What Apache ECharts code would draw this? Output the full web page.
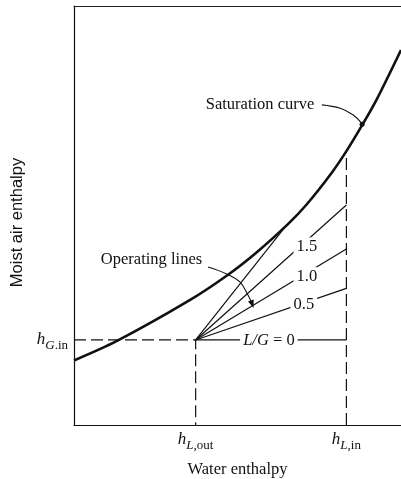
<html>
<head>
    <meta charset="utf-8">
    <title>Cooling tower operating lines</title>
    <script src="https://cdn.jsdelivr.net/npm/echarts@6/dist/echarts.min.js"></script>
</head>
<body style="margin:0">
    <div id="chart" style="width:401px;height:479px;"></div>
    <script>
        // saturation curve (water enthalpy -> moist air enthalpy)
        var satX = [0, 13, 35, 47, 56, 65.5, 71, 79, 83.5, 88.3, 92.5, 100];
        var satY = [15.4, 20.0, 29.6, 35.8, 41.3, 48.0, 52.5, 60.4, 65.6, 71.8, 77.6, 89.5];

        var hLout = 37.2;   // water outlet enthalpy
        var hLin = 83.3;    // water inlet enthalpy
        var hGin = 20.3;    // air inlet enthalpy
        var satAtHLin = 65.4;

        // operating lines, end value at hLin
        var ratioNames = ['0.5', '1.0', '1.5'];
        var ratioEndY = [32.6, 42.0, 52.5];
        var ratioLabelX = [70.3, 71.2, 71.2];
        var ratioLabelY = [28.6, 35.4, 42.5];
        var pinchEnd = [65.0, 47.7];

        // leaders
        var opLeaderX = [41.0, 46.8, 50.8, 53.2, 54.5];
        var opLeaderY = [37.7, 36.0, 34.1, 31.0, 28.8];
        var satLeaderX = [75.8, 81.4, 85.4, 88.0];
        var satLeaderY = [76.4, 75.6, 74.0, 72.0];
        var satDot = [88.1, 71.8];

        var ink = '#111';
        var serif = 'Liberation Serif';

        function pairs(xs, ys) {
            return xs.map(function (x, i) { return [x, ys[i]]; });
        }

        var series = [];

        series.push({
            type: 'line',
            data: pairs(satX, satY),
            smooth: 0.3,
            showSymbol: false,
            lineStyle: { color: ink, width: 2.6 }
        });

        // dashed guides
        series.push({
            type: 'line',
            data: [[0, hGin], [hLout, hGin], [hLout, 0]],
            showSymbol: false,
            lineStyle: { color: ink, width: 1.2, type: [12, 5] }
        });
        series.push({
            type: 'line',
            data: [[hLin, 0], [hLin, satAtHLin]],
            showSymbol: false,
            lineStyle: { color: ink, width: 1.2, type: [12, 5] }
        });

        // L/G = 0 and the others
        series.push({
            type: 'line',
            data: [[hLout, hGin], [hLin, hGin]],
            showSymbol: false,
            lineStyle: { color: ink, width: 1.2 }
        });
        for (var i = 0; i < ratioEndY.length; i++) {
            series.push({
                type: 'line',
                data: [[hLout, hGin], [hLin, ratioEndY[i]]],
                showSymbol: false,
                lineStyle: { color: ink, width: 1.2 }
            });
        }
        series.push({
            type: 'line',
            data: [[hLout, hGin], pinchEnd],
            showSymbol: false,
            lineStyle: { color: ink, width: 1.2 }
        });

        // leader for "Operating lines" with arrow head
        var opLeader = pairs(opLeaderX, opLeaderY).map(function (p, i, arr) {
            if (i == arr.length - 1) {
                return { value: p, symbol: 'triangle', symbolSize: [6, 8], symbolRotate: 200 };
            }
            return { value: p, symbol: 'none' };
        });
        series.push({
            type: 'line',
            data: opLeader,
            smooth: 0.4,
            showSymbol: true,
            showAllSymbol: true,
            itemStyle: { color: ink, opacity: 1 },
            lineStyle: { color: ink, width: 1.1 }
        });

        series.push({
            type: 'line',
            data: pairs(satLeaderX, satLeaderY),
            smooth: 0.4,
            showSymbol: false,
            lineStyle: { color: ink, width: 1.1 }
        });
        series.push({
            type: 'scatter',
            data: [satDot],
            symbolSize: 5,
            itemStyle: { color: ink, opacity: 1 }
        });

        // text labels sitting in the chart
        var textLabels = [
            { value: [56.9, 76.4], text: 'Saturation curve', bg: false },
            { value: [23.7, 39.4], text: 'Operating lines', bg: false },
            { value: [59.6, 20.1], text: '{i|L/G} = 0', bg: true }
        ];
        for (var i = 0; i < ratioNames.length; i++) {
            textLabels.push({ value: [ratioLabelX[i], ratioLabelY[i]], text: ratioNames[i], bg: true });
        }
        series.push({
            type: 'scatter',
            z: 10,
            symbolSize: 0,
            itemStyle: { opacity: 1 },
            data: textLabels.map(function (t) {
                return {
                    value: t.value,
                    label: {
                        show: true,
                        position: 'inside',
                        formatter: t.text,
                        fontFamily: serif,
                        fontSize: 16.5,
                        color: ink,
                        opacity: 1,
                        backgroundColor: t.bg ? '#fff' : 'transparent',
                        padding: t.bg ? [1, 3] : 0,
                        rich: {
                            i: { fontFamily: serif, fontSize: 16.5, fontStyle: 'italic', color: ink }
                        }
                    }
                };
            })
        });

        var hRich = {
            h: { fontFamily: serif, fontSize: 17, fontStyle: 'italic', color: ink, lineHeight: 24 },
            s: { fontFamily: serif, fontSize: 13, fontStyle: 'italic', color: ink, verticalAlign: 'bottom', lineHeight: 14 },
            t: { fontFamily: serif, fontSize: 13, color: ink, verticalAlign: 'bottom', lineHeight: 14 }
        };

        var myChart = echarts.init(document.getElementById('chart'));
        var option = {
            backgroundColor: '#fff',
            animation: false,
            grid: { left: 74, right: 0, top: 6, bottom: 54, outerBoundsMode: 'none' },
            xAxis: [{
                type: 'value',
                min: 0,
                max: 100,
                name: 'Water enthalpy',
                nameLocation: 'middle',
                nameGap: 36,
                nameTextStyle: { fontFamily: serif, fontSize: 16.5, color: ink },
                axisLine: { lineStyle: { color: ink, width: 1.2 } },
                axisTick: { show: false },
                splitLine: { show: false },
                axisLabel: {
                    customValues: [hLout, hLin],
                    margin: 3,
                    formatter: function (v) {
                        return Math.abs(v - hLout) < 1 ? '{h|h}{s|L}{t|,out}' : '{h|h}{s|L}{t|,in}';
                    },
                    rich: hRich
                }
            }, {
                type: 'value',
                position: 'top',
                min: 0,
                max: 100,
                axisLine: { show: true, lineStyle: { color: '#222', width: 1 } },
                axisTick: { show: false },
                axisLabel: { show: false },
                splitLine: { show: false }
            }],
            yAxis: {
                type: 'value',
                min: 0,
                max: 100,
                name: 'Moist air enthalpy',
                nameLocation: 'middle',
                nameGap: 48,
                nameRotate: 90,
                nameTextStyle: { fontFamily: 'Liberation Sans', fontSize: 16.5, color: ink, padding: [0, 14, 0, 0] },
                axisLine: { show: true, lineStyle: { color: ink, width: 1.2 } },
                axisTick: { show: false },
                splitLine: { show: false },
                axisLabel: {
                    customValues: [hGin],
                    margin: 6,
                    formatter: function () { return '{h|h}{s|G}{t|.in}'; },
                    rich: hRich
                }
            },
            series: series
        };
        myChart.setOption(option);
    </script>
</body>
</html>
